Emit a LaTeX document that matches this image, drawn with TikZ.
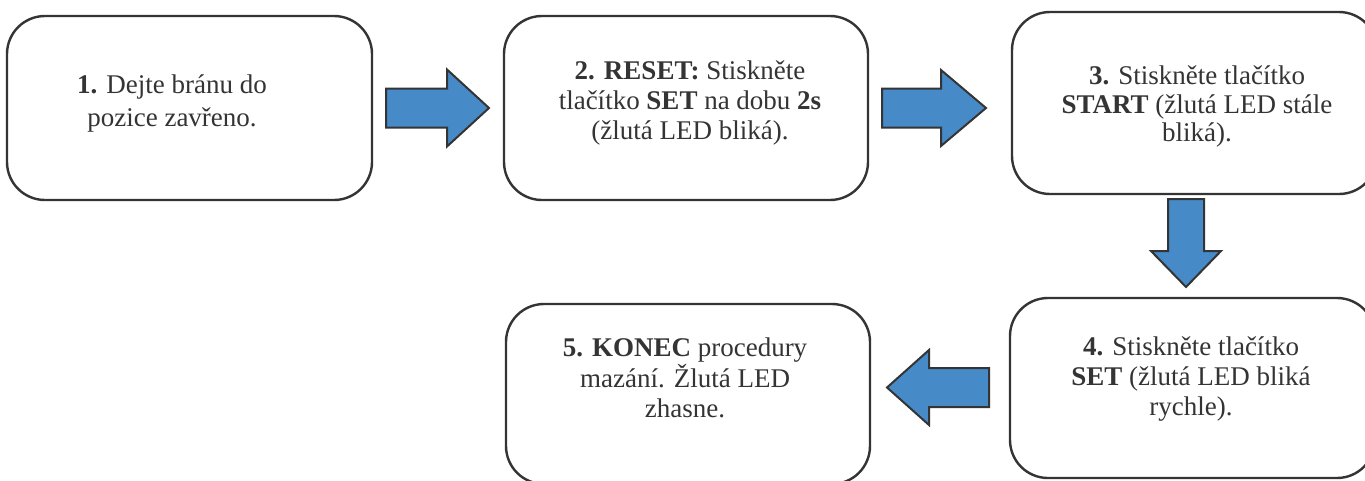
\documentclass[tikz,border=0pt]{standalone}
\usepackage{fontspec}
\setmainfont{Liberation Serif}
\usetikzlibrary{calc}
\definecolor{edge}{HTML}{343434}
\definecolor{arrowblue}{RGB}{70,138,200}
\begin{document}
\begin{tikzpicture}[x=1pt,y=-1pt,
  stepbox/.style={draw=edge, line width=2.4pt, rounded corners=38pt,
    inner sep=0pt, outer sep=0pt, minimum width=#1},
  steptext/.style={inner sep=0pt, align=center, text=edge,
    font=\fontsize{27}{#1}\selectfont},
  blockfill/.style={draw=edge, line width=2pt, fill=arrowblue, line join=miter},
  pics/blockarrow/.style n args={4}{code={
    \draw[blockfill] (0,-#3) -- ({#1-#2},-#3) -- ({#1-#2},-#4) -- (#1,0)
      -- ({#1-#2},#4) -- ({#1-#2},#3) -- (0,#3) -- cycle;
  }}]
\clip (0,0) rectangle (1365,480);
\fill[white] (0,0) rectangle (1365,480);

% step boxes
\node[stepbox=365pt, minimum height=184pt] (b1) at (189.5,108) {};
\node[stepbox=364pt, minimum height=184pt] (b2) at (686,108) {};
\node[stepbox=365pt, minimum height=182pt] (b3) at (1194.5,103) {};
\node[stepbox=365pt, minimum height=180pt] (b4) at (1192.5,388) {};
\node[stepbox=364pt, minimum height=180pt] (b5) at (688,394) {};

% step texts
\node[steptext=33pt] (t1) at ($(b1.center)+(-17.5,-4.5)$)
  {\textbf{1.} Dejte bránu do\\pozice zavřeno.};
\node[steptext=30pt] (t2) at ($(b2.center)+(4,-5)$)
  {\textbf{2. RESET:} Stiskněte\\tlačítko \textbf{SET} na dobu \textbf{2s}\\(žlutá LED bliká).};
\node[steptext=28.5pt] (t3) at ($(b3.center)+(2.5,3.5)$)
  {\textbf{3.} Stiskněte tlačítko\\\textbf{START} (žlutá LED stále\\bliká).};
\node[steptext=30pt] (t4) at ($(b4.center)+(-1.5,-9)$)
  {\textbf{4.} Stiskněte tlačítko\\\textbf{SET} (žlutá LED bliká\\rychle).};
\node[steptext=30.5pt] (t5) at ($(b5.center)+(-3,-16)$)
  {\textbf{5. KONEC} procedury\\mazání. Žlutá LED\\zhasne.};

% block arrows between the steps
\coordinate (a1) at ($(b1.east)+(14,0)$);
\coordinate (a2) at ($(b2.east)+(14,0)$);
\coordinate (a3) at ($(b3.south)+(-8.5,5)$);
\coordinate (a4) at ($(b4.west)+(-21,-0.5)$);
\pic at (a1) {blockarrow={103}{42}{19.5}{38.5}};
\pic at (a2) {blockarrow={104}{45}{19.5}{38}};
\pic[rotate=-90] at (a3) {blockarrow={88}{36}{18}{35}};
\pic[rotate=180] at (a4) {blockarrow={102}{42}{19.5}{37.5}};
\end{tikzpicture}
\end{document}
